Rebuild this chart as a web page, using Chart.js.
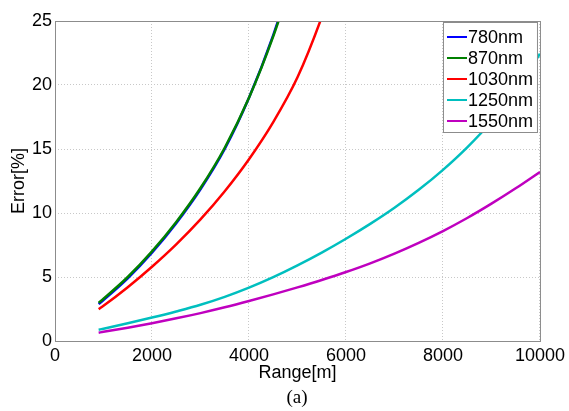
<!DOCTYPE html>
<html>
<head>
<meta charset="utf-8">
<script src="https://cdn.jsdelivr.net/npm/chart.js@4"></script>
<style>
  html, body { margin: 0; padding: 0; background: #fff; }
  #wrap { width: 569px; height: 411px; position: relative; }
</style>
</head>
<body>
<div id="wrap"><canvas id="chart" width="569" height="411"></canvas></div>
<script>
// range values in metres
const ranges = [900, 1000, 1500, 2000, 2500, 3000, 3500, 4000, 4500, 5000, 5500, 6000, 6500, 7000, 7500, 8000, 8500, 9000, 9500, 10000];

// error in %, null once the curve has left the plot
const err780 = [2.88, 3.2, 4.9, 6.9, 9.2, 11.85, 15.0, 19.0, 23.9, 29.8, null, null, null, null, null, null, null, null, null, null];
const err870 = [2.98, 3.3, 5.0, 7.0, 9.3, 11.95, 15.1, 19.0, 23.8, 29.5, null, null, null, null, null, null, null, null, null, null];
const err1030 = [2.49, 2.75, 4.2, 5.8, 7.55, 9.5, 11.7, 14.2, 17.1, 20.6, 25.3, 31.0, null, null, null, null, null, null, null, null];
const err1250 = [0.88, 0.96, 1.38, 1.83, 2.31, 2.83, 3.45, 4.17, 4.99, 5.91, 6.91, 7.99, 9.15, 10.41, 11.81, 13.37, 15.13, 17.15, 19.55, 22.45];
const err1550 = [0.65, 0.72, 1.04, 1.39, 1.77, 2.18, 2.63, 3.12, 3.64, 4.19, 4.77, 5.39, 6.07, 6.83, 7.67, 8.59, 9.61, 10.73, 11.93, 13.21];

const labels = ['780nm', '870nm', '1030nm', '1250nm', '1550nm'];
const colors = ['#0000ff', '#008000', '#ff0000', '#00bfbf', '#bf00bf'];
const xTicks = [0, 2000, 4000, 6000, 8000, 10000];
const yTicks = [0, 5, 10, 15, 20, 25];

const FONT = 'Liberation Sans, Arial, sans-serif';

function toPoints(vals) {
    return ranges.map((r, i) => ({ x: r, y: vals[i] }));
}

const series = [err780, err870, err1030, err1250, err1550];

// frame + legend box + caption
const extras = {
    id: 'extras',
    afterDraw(chart) {
        const ctx = chart.ctx;
        const a = chart.chartArea;
        ctx.save();
        ctx.strokeStyle = '#8c8c8c';
        ctx.lineWidth = 1;
        ctx.strokeRect(a.left + 0.5, a.top + 0.5, a.right - a.left, a.bottom - a.top);

        // legend in the top right corner
        const bx = a.right - 97, by = a.top + 1, bw = 94, bh = 110;
        ctx.fillStyle = '#fff';
        ctx.fillRect(bx, by, bw, bh);
        ctx.strokeStyle = '#8c8c8c';
        ctx.strokeRect(bx + 0.5, by + 0.5, bw, bh);
        ctx.font = '18px ' + FONT;
        ctx.textBaseline = 'middle';
        chart.data.datasets.forEach((ds, i) => {
            const y = by + 15 + i * 21;
            ctx.strokeStyle = ds.borderColor;
            ctx.lineWidth = 2;
            ctx.beginPath();
            ctx.moveTo(bx + 4, y);
            ctx.lineTo(bx + 24, y);
            ctx.stroke();
            ctx.fillStyle = '#000';
            ctx.fillText(ds.label, bx + 25, y + 1);
        });

        ctx.font = '19px Liberation Serif, serif';
        ctx.textAlign = 'center';
        ctx.fillStyle = '#000';
        ctx.fillText('(a)', 297, 398);
        ctx.restore();
    }
};

new Chart(document.getElementById('chart'), {
    type: 'line',
    data: {
        datasets: series.map((vals, i) => ({
            label: labels[i],
            data: toPoints(vals),
            borderColor: colors[i],
            backgroundColor: colors[i],
            borderWidth: 2.5,
            pointRadius: 0,
            fill: false,
            spanGaps: false,
            order: labels.length - i, // later series drawn on top
            cubicInterpolationMode: 'monotone'
        }))
    },
    options: {
        responsive: false,
        animation: false,
        events: [],
        layout: { padding: { left: 0, top: 21, right: 28, bottom: 27 } },
        plugins: {
            legend: { display: false },
            tooltip: { enabled: false }
        },
        scales: {
            x: {
                type: 'linear',
                min: 0,
                max: 10000,
                afterBuildTicks(scale) { scale.ticks = xTicks.map(v => ({ value: v })); },
                afterFit(scale) { scale.height = 43; },
                grid: { color: '#c8c8c8', drawTicks: false, tickLength: 0 },
                border: { display: false, dash: [1, 2] },
                ticks: { color: '#000', font: { family: FONT, size: 18 }, padding: 4, maxRotation: 0, callback: v => String(v) },
                title: { display: true, text: 'Range[m]', color: '#000', font: { family: FONT, size: 18 }, padding: { top: 0, bottom: 0 } }
            },
            y: {
                min: 0,
                max: 25,
                afterBuildTicks(scale) { scale.ticks = yTicks.map(v => ({ value: v })); },
                afterFit(scale) { scale.width = 55; },
                grid: { color: '#c8c8c8', drawTicks: false, tickLength: 0 },
                border: { display: false, dash: [1, 2] },
                ticks: { color: '#000', font: { family: FONT, size: 18 }, padding: 3, callback: v => String(v) },
                title: { display: true, text: 'Error[%]', color: '#000', font: { family: FONT, size: 18 }, padding: { top: 8, bottom: 0 } }
            }
        }
    },
    plugins: [extras]
});
</script>
</body>
</html>
